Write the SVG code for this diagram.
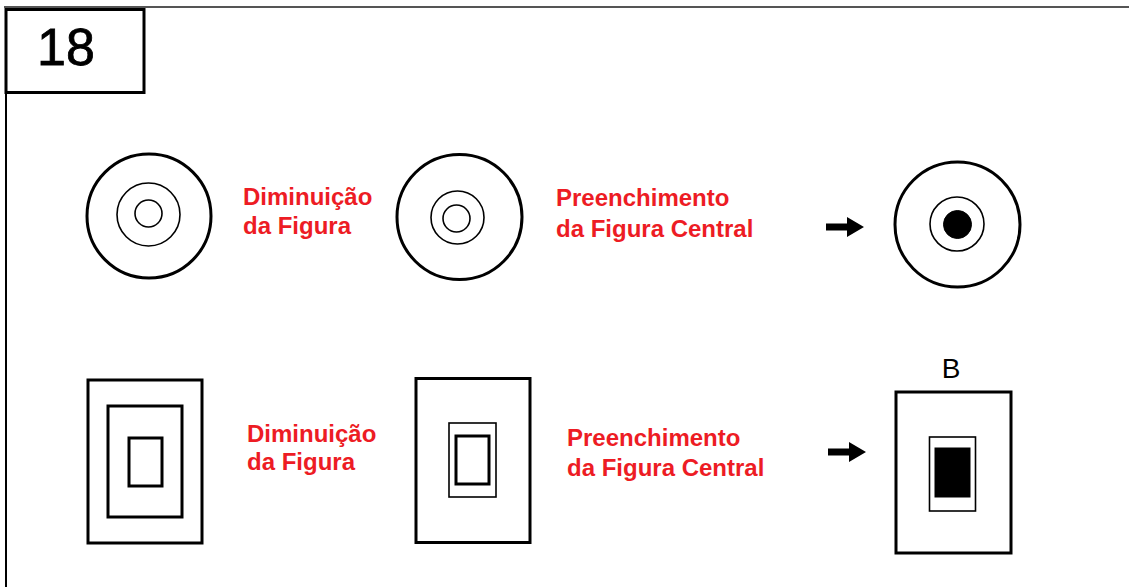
<svg xmlns="http://www.w3.org/2000/svg" width="1129" height="587" viewBox="0 0 1129 587">
<style>
.lbl{font-family:"Liberation Sans",Arial,sans-serif;font-weight:bold;font-size:24px;fill:#ed1c24}
.thick{fill:none;stroke:#000;stroke-width:3}
.thin{fill:none;stroke:#000;stroke-width:1.6}
.fill{fill:#000;stroke:#000;stroke-width:1}
</style>
<defs>
<path id="arrow" d="M0,-3.5 H21 V-10 L38,0 L21,10 V3.5 H0 Z" fill="#000"/>
</defs>
<rect width="1129" height="587" fill="#fff"/>
<g id="frame">
<line x1="4" y1="7" x2="1129" y2="7" stroke="#555" stroke-width="2"/>
<line x1="6" y1="92" x2="6" y2="587" stroke="#000" stroke-width="2"/>
<rect x="6" y="9.5" width="138" height="83" class="thick"/>
<text x="37" y="65" font-family="'Liberation Sans',Arial,sans-serif" font-size="52" fill="#000" stroke="#000" stroke-width="0.8">18</text>
</g>
<g id="circle1">
<circle cx="149" cy="216" r="62" class="thick"/>
<circle cx="148.5" cy="214.5" r="31.5" class="thin"/>
<circle cx="148.5" cy="213.5" r="13.5" class="thin"/>
</g>
<g id="label1">
<text class="lbl" x="243" y="205">Diminuição</text>
<text class="lbl" x="243" y="234">da Figura</text>
</g>
<g id="circle2">
<circle cx="459.5" cy="217" r="62.5" class="thick"/>
<circle cx="457.5" cy="217.5" r="26.5" class="thin"/>
<circle cx="456.5" cy="218.5" r="13.5" class="thin"/>
</g>
<g id="label2">
<text class="lbl" x="556" y="206">Preenchimento</text>
<text class="lbl" x="556" y="237">da Figura Central</text>
</g>
<g id="circle3">
<circle cx="957.5" cy="224.5" r="62.5" class="thick"/>
<circle cx="957" cy="224" r="27" class="thin"/>
<circle cx="957.5" cy="224.5" r="14" class="fill"/>
</g>
<g id="rect1">
<rect x="88" y="380" width="114" height="163" class="thick"/>
<rect x="108" y="406" width="74" height="111" class="thick"/>
<rect x="129" y="438" width="33" height="48" class="thick"/>
</g>
<g id="label3">
<text class="lbl" x="247" y="442">Diminuição</text>
<text class="lbl" x="247" y="470">da Figura</text>
</g>
<g id="rect2">
<rect x="416" y="378.5" width="114" height="164" class="thick"/>
<rect x="449" y="423" width="47" height="74" class="thin"/>
<rect x="456" y="436" width="33" height="48" class="thick"/>
</g>
<g id="label4">
<text class="lbl" x="567" y="446">Preenchimento</text>
<text class="lbl" x="567" y="476">da Figura Central</text>
</g>
<g id="rect3">
<text x="951" y="378" text-anchor="middle" font-family="'Liberation Sans',Arial,sans-serif" font-size="28" fill="#000">B</text>
<rect x="896" y="392" width="115" height="161" class="thick"/>
<rect x="929.5" y="437" width="46" height="74" class="thin"/>
<rect x="935" y="448" width="35" height="49" class="fill"/>
</g>
<g id="connectors">
<use href="#arrow" x="826" y="227"/>
<use href="#arrow" x="828" y="452"/>
</g>
</svg>
